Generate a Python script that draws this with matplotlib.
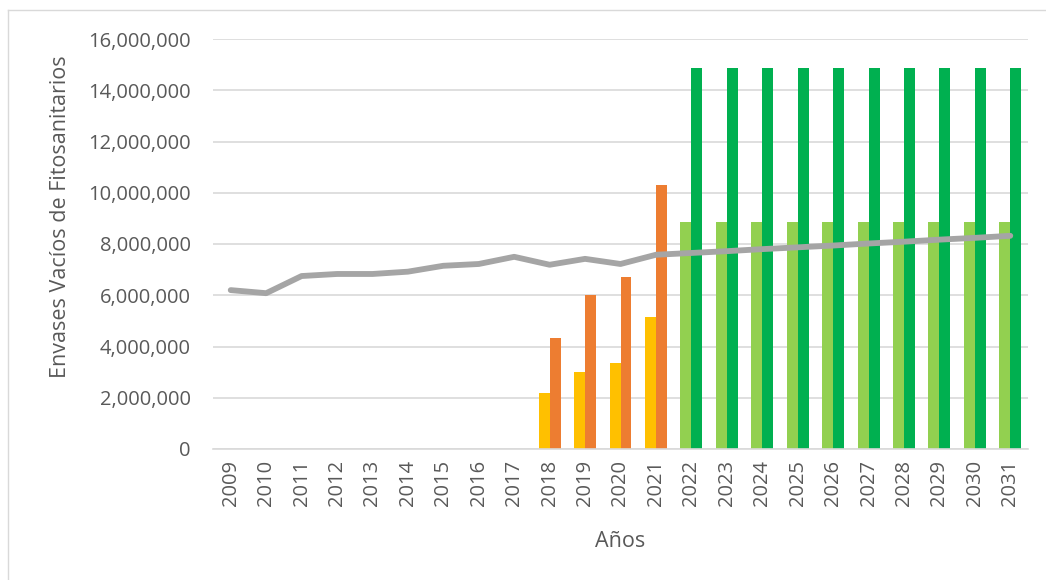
import matplotlib
matplotlib.use("Agg")
import matplotlib.pyplot as plt
import numpy as np
from matplotlib.ticker import FuncFormatter
from matplotlib.lines import Line2D

years = [str(y) for y in range(2009, 2032)]
total_line = [6.20e6, 6.08e6, 6.75e6, 6.83e6, 6.83e6, 6.92e6, 7.15e6, 7.22e6, 7.50e6,
              7.19e6, 7.42e6, 7.22e6, 7.58e6, 7.65e6, 7.72e6, 7.80e6, 7.87e6, 7.94e6,
              8.02e6, 8.09e6, 8.17e6, 8.24e6, 8.32e6]
hist_years = ["2018", "2019", "2020", "2021"]
hist_low = [2.19e6, 3.00e6, 3.36e6, 5.16e6]
hist_high = [4.34e6, 6.02e6, 6.72e6, 10.31e6]
proj_years = [str(y) for y in range(2022, 2032)]
proj_low = [8.87e6] * 10
proj_high = [14.88e6] * 10

plt.rcParams['font.family'] = ['Open Sans', 'DejaVu Sans']
txt = '#595959'

fig = plt.figure(figsize=(10.46, 5.80), dpi=100)
ax = fig.add_axes([213/1046, 1-449/580, (1028-213)/1046, (449-39)/580])

x = np.arange(len(years))
idx = {y: i for i, y in enumerate(years)}
w = 0.31
hx = np.array([idx[y] for y in hist_years])
px = np.array([idx[y] for y in proj_years])
ax.bar(hx - w/2, hist_low, width=w, color='#FFC000', zorder=2)
ax.bar(hx + w/2, hist_high, width=w, color='#ED7D31', zorder=2)
ax.bar(px - w/2, proj_low, width=w, color='#92D050', zorder=2)
ax.bar(px + w/2, proj_high, width=w, color='#00B050', zorder=2)
ax.plot(x, total_line, color='#A5A5A5', lw=4.2, solid_capstyle='round', zorder=3)

ax.set_xlim(-0.5, len(years) - 0.5)
ax.set_ylim(0, 16e6)
ax.set_yticks(np.arange(0, 16e6 + 1, 2e6))
ax.yaxis.set_major_formatter(FuncFormatter(lambda v, p: f"{int(v):,}"))
ax.set_xticks(x)
ax.set_xticklabels(years, rotation=90)
ax.grid(axis='y', color='#D9D9D9', lw=1.2, zorder=0)
ax.set_axisbelow(True)
for s in ['top', 'right', 'left']:
    ax.spines[s].set_visible(False)
ax.spines['bottom'].set_color('#D9D9D9')
ax.spines['bottom'].set_linewidth(1.2)
ax.tick_params(axis='both', length=0, labelsize=14.5, colors=txt)
ax.tick_params(axis='y', pad=16)
ax.tick_params(axis='x', pad=8)
ax.set_xlabel('Años', fontsize=15.5, color=txt, labelpad=18)
ax.set_ylabel('Envases Vacíos de Fitosanitarios', fontsize=15.5, color=txt)
ax.yaxis.set_label_coords((71 - 213) / 815, (449 - 217) / 410)

fig.add_artist(Line2D([8/1046, 1], [1-10/580, 1-10/580], color='#D9D9D9', lw=1))
fig.add_artist(Line2D([8/1046, 8/1046], [0, 1-10/580], color='#D9D9D9', lw=1))

fig.savefig('out.png', dpi=100)
